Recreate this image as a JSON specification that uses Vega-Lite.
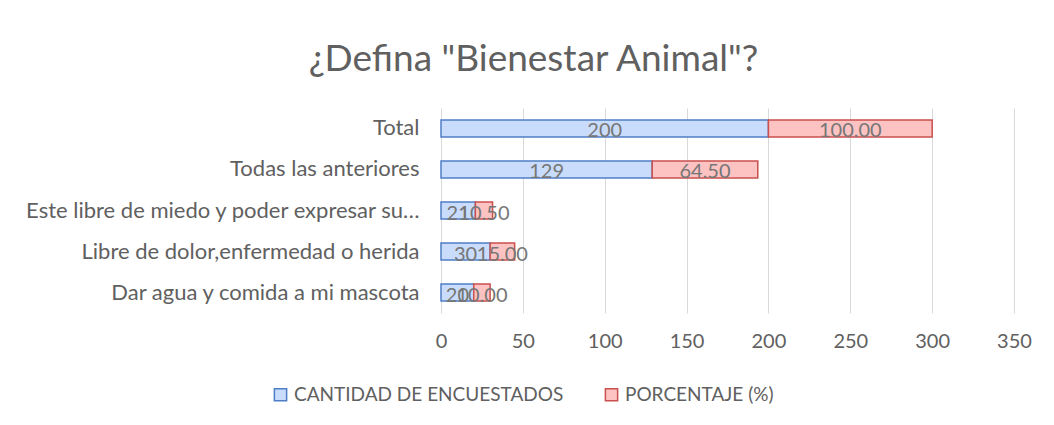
{
  "$schema": "https://vega.github.io/schema/vega-lite/v6.json",
  "width": 573,
  "height": 205,
  "autosize": {"type": "none"},
  "padding": {"left": 441, "top": 108, "right": 40, "bottom": 112},
  "background": "white",
  "title": {
    "text": "¿Defina \"Bienestar Animal\"?",
    "font": "Lato",
    "fontSize": 37,
    "fontWeight": "normal",
    "color": "#606060",
    "anchor": "middle",
    "dx": -194,
    "offset": 29
  },
  "data": {
    "values": [
      {"categoria": "Total", "serie": "CANTIDAD DE ENCUESTADOS", "orden": 1, "valor": 200, "etiqueta": "200"},
      {"categoria": "Total", "serie": "PORCENTAJE (%)", "orden": 2, "valor": 100, "etiqueta": "100.00"},
      {"categoria": "Todas las anteriores", "serie": "CANTIDAD DE ENCUESTADOS", "orden": 1, "valor": 129, "etiqueta": "129"},
      {"categoria": "Todas las anteriores", "serie": "PORCENTAJE (%)", "orden": 2, "valor": 64.5, "etiqueta": "64.50"},
      {"categoria": "Este libre de miedo y poder expresar su…", "serie": "CANTIDAD DE ENCUESTADOS", "orden": 1, "valor": 21, "etiqueta": "21"},
      {"categoria": "Este libre de miedo y poder expresar su…", "serie": "PORCENTAJE (%)", "orden": 2, "valor": 10.5, "etiqueta": "10.50"},
      {"categoria": "Libre de dolor,enfermedad o herida", "serie": "CANTIDAD DE ENCUESTADOS", "orden": 1, "valor": 30, "etiqueta": "30"},
      {"categoria": "Libre de dolor,enfermedad o herida", "serie": "PORCENTAJE (%)", "orden": 2, "valor": 15, "etiqueta": "15.00"},
      {"categoria": "Dar agua y comida a mi mascota", "serie": "CANTIDAD DE ENCUESTADOS", "orden": 1, "valor": 20, "etiqueta": "20"},
      {"categoria": "Dar agua y comida a mi mascota", "serie": "PORCENTAJE (%)", "orden": 2, "valor": 10, "etiqueta": "10.00"}
    ]
  },
  "encoding": {
    "y": {
      "field": "categoria",
      "type": "nominal",
      "sort": ["Total", "Todas las anteriores", "Este libre de miedo y poder expresar su…", "Libre de dolor,enfermedad o herida", "Dar agua y comida a mi mascota"],
      "scale": {"paddingInner": 0.585, "paddingOuter": 0.29},
      "axis": {
        "title": null,
        "domain": false,
        "ticks": false,
        "labelPadding": 22,
        "labelFont": "Lato",
        "labelFontSize": 22,
        "labelColor": "#606060",
        "labelLimit": 600
      }
    },
    "x": {
      "field": "valor",
      "type": "quantitative",
      "stack": "zero",
      "scale": {"domain": [0, 350], "nice": false},
      "axis": {
        "title": null,
        "values": [0, 50, 100, 150, 200, 250, 300, 350],
        "domain": false,
        "ticks": false,
        "grid": true,
        "gridColor": "#d9d9d9",
        "gridWidth": 1,
        "labelFlush": false,
        "labelPadding": 18,
        "labelFont": "Lato",
        "labelFontSize": 20,
        "labelColor": "#606060"
      }
    },
    "order": {"field": "orden", "type": "quantitative"}
  },
  "layer": [
    {
      "mark": {"type": "bar", "strokeWidth": 1.5},
      "encoding": {
        "fill": {
          "field": "serie",
          "type": "nominal",
          "scale": {"domain": ["CANTIDAD DE ENCUESTADOS", "PORCENTAJE (%)"], "range": ["#c9dcfb", "#fdc3c3"]},
          "legend": {
            "title": null,
            "orient": "none",
            "direction": "horizontal",
            "legendX": -170,
            "legendY": 277,
            "symbolType": "square",
            "symbolSize": 150,
            "symbolStrokeWidth": 1.5,
            "labelFont": "Lato",
            "labelFontSize": 19,
            "labelColor": "#606060",
            "labelOffset": 4,
            "columnPadding": 38,
            "labelLimit": 500
          }
        },
        "stroke": {
          "field": "serie",
          "type": "nominal",
          "scale": {"domain": ["CANTIDAD DE ENCUESTADOS", "PORCENTAJE (%)"], "range": ["#4f7ec6", "#c9504d"]},
          "legend": {
            "title": null,
            "orient": "none",
            "direction": "horizontal",
            "legendX": -170,
            "legendY": 277,
            "symbolType": "square",
            "symbolSize": 150,
            "symbolStrokeWidth": 1.5,
            "labelFont": "Lato",
            "labelFontSize": 19,
            "labelColor": "#606060",
            "labelOffset": 4,
            "columnPadding": 38,
            "labelLimit": 500
          }
        }
      }
    },
    {
      "mark": {"type": "text", "font": "Lato", "fontSize": 20, "color": "#767676", "baseline": "middle", "dy": 3},
      "encoding": {
        "x": {"field": "valor", "type": "quantitative", "stack": "zero", "bandPosition": 0.5},
        "text": {"field": "etiqueta", "type": "nominal"}
      }
    }
  ],
  "config": {"view": {"stroke": null}}
}
